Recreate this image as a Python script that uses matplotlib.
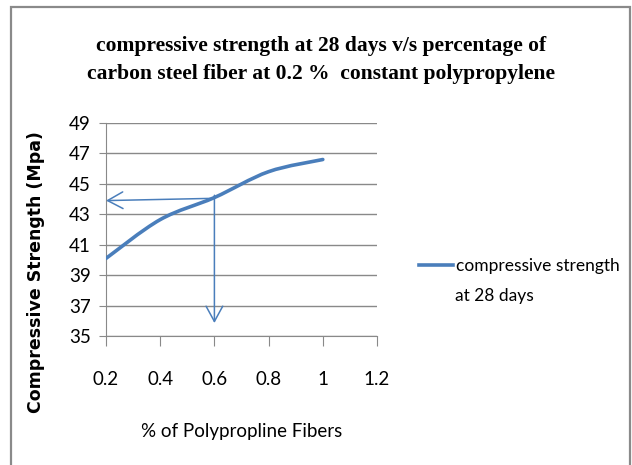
import matplotlib.pyplot as plt
from matplotlib.path import Path
from matplotlib.patches import PathPatch
from matplotlib.lines import Line2D
import numpy as np

# data
fiber_pct = [0.2, 0.4, 0.6, 0.8, 1.0]
strength = [40.1, 42.65, 44.1, 45.8, 46.6]
x_ticks = [0.2, 0.4, 0.6, 0.8, 1.0, 1.2]
x_ticklabels = ['0.2', '0.4', '0.6', '0.8', '1', '1.2']
y_ticks = [35, 37, 39, 41, 43, 45, 47, 49]

blue = '#4A7EBB'
grid = '#898989'
narrow = ['Lato', 'DejaVu Sans']

fig = plt.figure(figsize=(6.32, 4.65), dpi=100)
# outer chart frame
fig.add_artist(plt.Rectangle((11 / 632, -0.05), 619 / 632, 1.05 - 7 / 465,
                             transform=fig.transFigure, fill=False,
                             edgecolor='#8A8A8A', lw=1.6))

ax = fig.add_axes([106 / 632, 1 - 336 / 465, 271 / 632, 213 / 465])
ax.set_xlim(0.2, 1.2)
ax.set_ylim(35, 49)

# smoothed line (Excel style Catmull-Rom bezier)
pts = np.column_stack([fiber_pct, strength])
verts = [tuple(pts[0])]
codes = [Path.MOVETO]
n = len(pts)
for i in range(n - 1):
    p0 = pts[max(i - 1, 0)]
    p1 = pts[i]
    p2 = pts[i + 1]
    p3 = pts[min(i + 2, n - 1)]
    c1 = p1 + (p2 - p0) / 6
    c2 = p2 - (p3 - p1) / 6
    verts += [tuple(c1), tuple(c2), tuple(p2)]
    codes += [Path.CURVE4] * 3
ax.add_patch(PathPatch(Path(verts, codes), fill=False, edgecolor=blue,
                       lw=2.6, capstyle='round', zorder=3))

# reading arrows
arrow = dict(arrowstyle='->,head_length=0.55,head_width=0.3', color=blue,
             lw=1.1, mutation_scale=20, shrinkA=0, shrinkB=0)
ax.annotate('', xy=(0.2, 43.9), xytext=(0.6, 44.05), arrowprops=arrow)
ax.annotate('', xy=(0.6, 35.85), xytext=(0.6, 44.25), arrowprops=arrow)

ax.set_xticks(x_ticks)
ax.set_xticklabels(x_ticklabels, family=narrow, fontsize=13.5)
ax.set_yticks(y_ticks)
ax.set_yticklabels([str(v) for v in y_ticks], family=narrow, fontsize=13.5)
ax.grid(axis='y', color=grid, lw=1)
ax.set_axisbelow(True)
for s in ['top', 'right']:
    ax.spines[s].set_visible(False)
for s in ['left', 'bottom']:
    ax.spines[s].set_color(grid)
ax.tick_params(axis='x', direction='out', length=7, color=grid, pad=18)
ax.tick_params(axis='y', direction='out', length=5, color=grid, pad=6)

ax.set_xlabel('% of Polypropline Fibers', family=narrow, fontsize=13.5)
ax.xaxis.set_label_coords((242 - 106) / 271, -(423 - 336) / 213)
ax.set_ylabel('Compressive Strength (Mpa)', fontsize=12.5, fontweight='bold')
ax.yaxis.set_label_coords((45 - 106) / 271, (336 - 272) / 213)

fig.text(321 / 632, 1 - 60 / 465,
         'compressive strength at 28 days v/s percentage of\n'
         'carbon steel fiber at 0.2 %  constant polypropylene',
         ha='center', va='center', family='Liberation Serif',
         fontweight='bold', fontsize=15.5, linespacing=1.55)

handle = Line2D([], [], color=blue, lw=2.6)
fig.legend([handle], ['compressive strength'], frameon=False,
           loc='center left', bbox_to_anchor=(410 / 632, 1 - 266 / 465),
           prop={'family': narrow, 'size': 12.5}, handlelength=2.0,
           handletextpad=0.15, borderpad=0)
fig.text(455 / 632, 1 - 296 / 465, 'at 28 days', family=narrow, fontsize=12.5,
         va='center', ha='left')

fig.savefig('out.png', dpi=100)
